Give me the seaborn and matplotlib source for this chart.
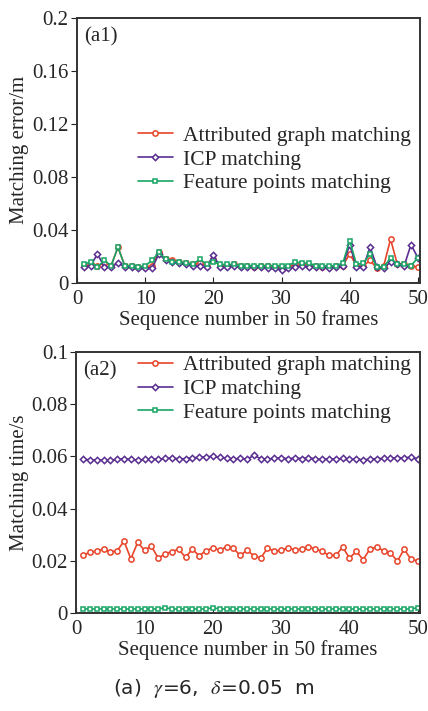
import numpy as np
import pandas as pd
import matplotlib
matplotlib.use("Agg")
import matplotlib.pyplot as plt
import seaborn as sns
from matplotlib.ticker import FuncFormatter

frames = list(range(1, 51))
series_names = ["Attributed graph matching", "ICP matching", "Feature points matching"]

err_attr = [0.013, 0.014, 0.013, 0.015, 0.013, 0.027, 0.013, 0.013, 0.012, 0.012,
            0.013, 0.023, 0.018, 0.017, 0.016, 0.015, 0.014, 0.015, 0.013, 0.018,
            0.013, 0.013, 0.014, 0.013, 0.013, 0.012, 0.013, 0.013, 0.012, 0.012,
            0.012, 0.014, 0.014, 0.013, 0.013, 0.012, 0.012, 0.013, 0.013, 0.022,
            0.013, 0.013, 0.017, 0.011, 0.013, 0.033, 0.014, 0.014, 0.013, 0.012]
err_icp = [0.012, 0.013, 0.022, 0.012, 0.012, 0.015, 0.012, 0.012, 0.011, 0.011,
           0.011, 0.022, 0.017, 0.016, 0.015, 0.014, 0.013, 0.013, 0.012, 0.021,
           0.012, 0.012, 0.013, 0.012, 0.012, 0.012, 0.012, 0.011, 0.011, 0.010,
           0.011, 0.012, 0.013, 0.012, 0.012, 0.012, 0.011, 0.012, 0.013, 0.029,
           0.012, 0.012, 0.027, 0.012, 0.011, 0.016, 0.014, 0.013, 0.029, 0.019]
err_feat = [0.014, 0.016, 0.012, 0.017, 0.013, 0.027, 0.013, 0.013, 0.012, 0.013,
            0.017, 0.023, 0.018, 0.016, 0.016, 0.015, 0.014, 0.018, 0.014, 0.016,
            0.014, 0.014, 0.014, 0.013, 0.013, 0.013, 0.013, 0.013, 0.013, 0.013,
            0.013, 0.016, 0.015, 0.015, 0.013, 0.013, 0.013, 0.013, 0.015, 0.032,
            0.014, 0.015, 0.022, 0.012, 0.012, 0.019, 0.014, 0.014, 0.013, 0.019]

time_attr = [0.0220, 0.0233, 0.0236, 0.0245, 0.0233, 0.0238, 0.0275, 0.0207, 0.0270, 0.0240,
             0.0256, 0.0210, 0.0226, 0.0235, 0.0244, 0.0213, 0.0244, 0.0219, 0.0238, 0.0250,
             0.0240, 0.0253, 0.0248, 0.0220, 0.0240, 0.0219, 0.0210, 0.0248, 0.0236, 0.0240,
             0.0248, 0.0242, 0.0244, 0.0254, 0.0245, 0.0236, 0.0220, 0.0220, 0.0252, 0.0210,
             0.0236, 0.0204, 0.0245, 0.0252, 0.0238, 0.0230, 0.0198, 0.0244, 0.0205, 0.0200]
time_icp = [0.0591, 0.0585, 0.0587, 0.0585, 0.0584, 0.0588, 0.0591, 0.0588, 0.0586, 0.0588,
            0.0590, 0.0588, 0.0592, 0.0594, 0.0590, 0.0591, 0.0594, 0.0596, 0.0598, 0.0600,
            0.0596, 0.0592, 0.0589, 0.0593, 0.0588, 0.0604, 0.0591, 0.0590, 0.0592, 0.0595,
            0.0590, 0.0594, 0.0591, 0.0595, 0.0590, 0.0588, 0.0591, 0.0589, 0.0592, 0.0588,
            0.0590, 0.0586, 0.0589, 0.0591, 0.0592, 0.0593, 0.0595, 0.0594, 0.0597, 0.0590]
time_feat = [0.0015] * 12 + [0.0020] + [0.0015] * 6 + [0.0020] + [0.0015] * 29 + [0.0020]

colors = ["#E8442A", "#5A2D91", "#17A565"]
markers = ["o", "D", "s"]
msizes = [3.8, 3.2, 3.2]

sns.set_style("ticks")
plt.rcParams["font.family"] = ["Liberation Serif", "DejaVu Serif"]
plt.rcParams["mathtext.fontset"] = "stix"

fig = plt.figure(figsize=(4.28, 7.11), dpi=100)
ax1 = fig.add_axes([0.180, 0.602, 0.801, 0.373])
ax2 = fig.add_axes([0.178, 0.138, 0.803, 0.367])

def fmt(v, pos):
    s = f"{v:.2f}".rstrip("0").rstrip(".")
    return s

def draw(ax, data, ylim, yticks, ylabel, panel, legend_anchor):
    for name, vals, c, m, ms in zip(series_names, data, colors, markers, msizes):
        df = pd.DataFrame({"frame": frames, "value": vals})
        sns.lineplot(data=df, x="frame", y="value", ax=ax, color=c, marker=m,
                     markersize=ms, markerfacecolor="white", markeredgecolor=c,
                     markeredgewidth=1.1, linewidth=1.2, label=name)
    ax.set_xlim(0, 50.3)
    ax.set_ylim(*ylim)
    ax.set_xticks([0, 10, 20, 30, 40, 50])
    ax.set_yticks(yticks)
    ax.yaxis.set_major_formatter(FuncFormatter(fmt))
    ax.tick_params(axis="x", direction="in", length=4, labelsize=15, pad=5, color="#222222")
    ax.tick_params(axis="y", direction="out", length=4, labelsize=15, pad=2, color="#222222")
    for sp in ax.spines.values():
        sp.set_color("#333333")
        sp.set_linewidth(1.4)
    ax.set_xlabel("Sequence number in 50 frames", fontsize=15, labelpad=1)
    ax.set_ylabel(ylabel, fontsize=15, labelpad=2)
    ax.text(0.02, 0.965, panel, transform=ax.transAxes, fontsize=15, va="top", ha="left")
    ax.legend(loc="upper right", bbox_to_anchor=legend_anchor, frameon=False,
              fontsize=15.5, handlelength=1.6, handletextpad=0.5, labelspacing=0.17,
              borderaxespad=0.0)

draw(ax1, [err_attr, err_icp, err_feat], (0, 0.2), [0, 0.04, 0.08, 0.12, 0.16, 0.2],
     "Matching error/m", "(a1)", (1.0, 0.625))
draw(ax2, [time_attr, time_icp, time_feat], (0, 0.1), [0, 0.02, 0.04, 0.06, 0.08, 0.1],
     "Matching time/s", "(a2)", (1.0, 1.02))

fig.text(0.5, 0.032, r"(a)  $\gamma$=6,  $\delta$=0.05  m", ha="center", va="center",
         fontsize=14.5, family=["DejaVu Sans"])

fig.savefig("out.png", dpi=100)
